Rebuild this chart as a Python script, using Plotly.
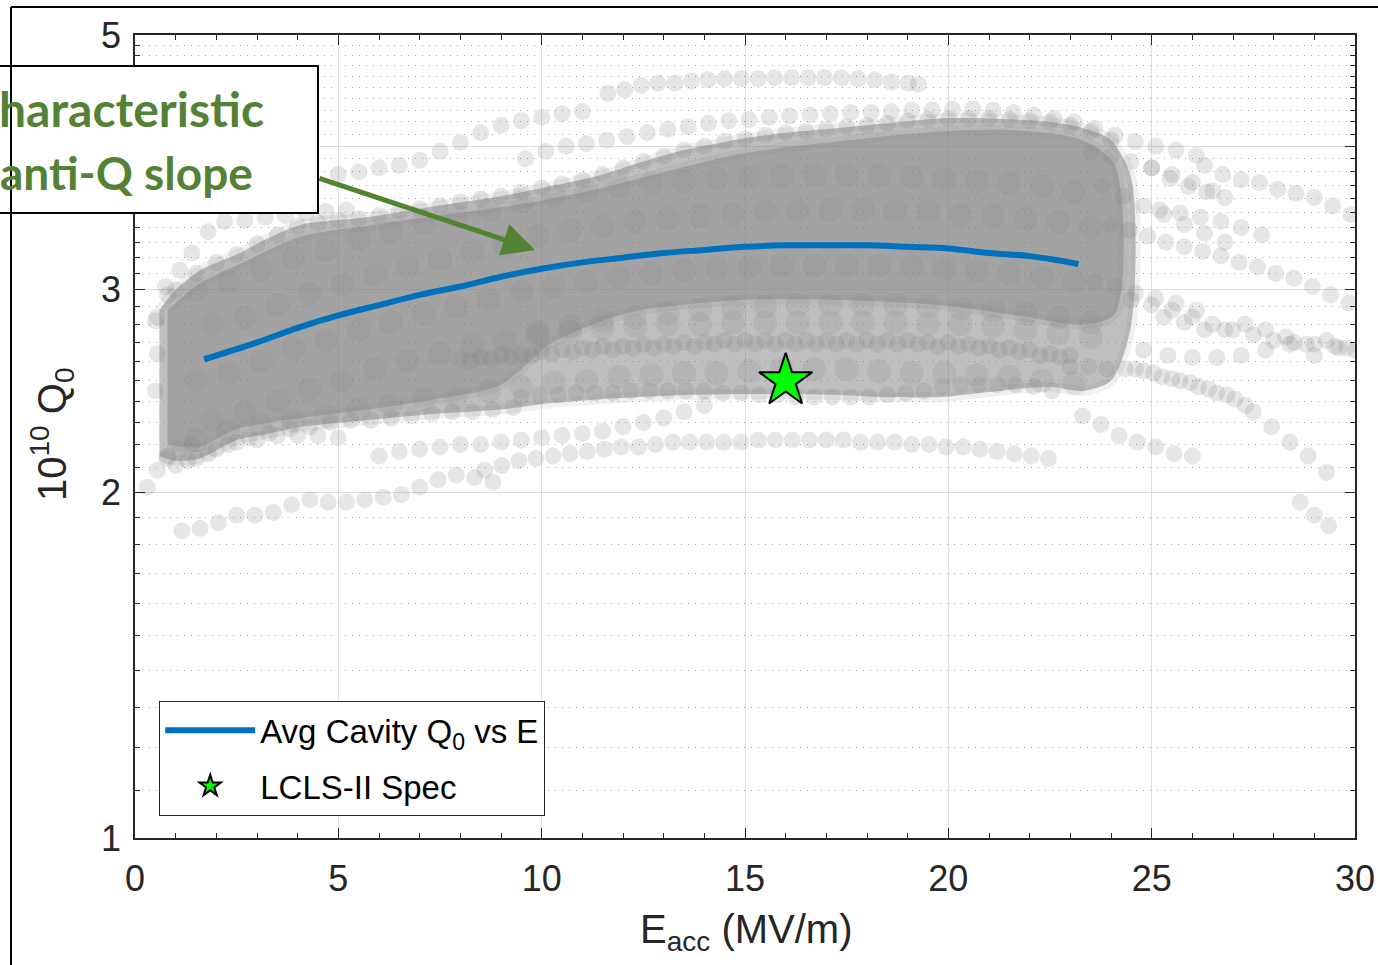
import math
import plotly.graph_objects as go

# ---------------- data ----------------
# average cavity Q0 curve (units of 1e10)
avg_e = [1.7, 3, 4, 5, 6, 7, 8, 9, 10, 11, 12, 13, 14, 15, 16, 17, 18, 19, 20, 21, 22, 23.2]
avg_q0 = [2.61, 2.70, 2.78, 2.85, 2.91, 2.97, 3.02, 3.08, 3.13, 3.17, 3.20, 3.23, 3.25,
          3.27, 3.28, 3.28, 3.28, 3.27, 3.26, 3.23, 3.21, 3.16]

# LCLS-II specification point
spec_e = [16.0]
spec_q0 = [2.50]

# envelope of the densely overlapping measurement cloud
cloud_e = [0.6, 1.0, 1.6, 2.5, 3.3, 4.1, 5.7, 7.4, 9.0, 10.2, 11.5, 12.4, 13.5, 14.9, 16.0,
           17.3, 18.5, 19.8, 21.0, 22.5, 23.3, 24.0, 24.5]
cloud_upper = [2.88, 3.00, 3.12, 3.22, 3.33, 3.42, 3.47, 3.55, 3.62, 3.69, 3.78, 3.87, 3.97,
               4.06, 4.11, 4.15, 4.19, 4.23, 4.23, 4.20, 4.15, 4.05, 3.75]
cloud_lower = [2.15, 2.13, 2.14, 2.22, 2.25, 2.28, 2.31, 2.34, 2.36, 2.39, 2.41, 2.42, 2.43,
               2.435, 2.435, 2.43, 2.42, 2.42, 2.445, 2.47, 2.45, 2.50, 2.80]

# darkest core of the cloud
core_e = [0.8, 1.6, 2.5, 4.1, 5.7, 7.4, 9.0, 10.2, 11.5, 12.4, 14.9, 17.3, 19.8, 21.7, 23.3, 24.1]
core_upper = [2.88, 3.04, 3.15, 3.34, 3.41, 3.48, 3.54, 3.60, 3.68, 3.75, 3.94, 4.04, 4.12,
              4.13, 4.05, 3.85]
core_lower = [2.20, 2.19, 2.27, 2.32, 2.36, 2.41, 2.48, 2.69, 2.82, 2.88, 2.94, 2.94, 2.91,
              2.85, 2.80, 2.86]

# individual cavity measurement runs (E in MV/m, Q0 in 1e10)
grid_a = [1.5, 2.3, 3.1, 3.9, 4.7, 5.5, 6.3, 7.1, 7.9, 8.7, 9.5, 10.3, 11.1, 11.9, 12.7, 13.5,
          14.3, 15.1, 15.9, 16.7, 17.5, 18.3, 19.1, 19.9, 20.7, 21.5, 22.3, 23.1]
grid_b = [1.9, 2.7, 3.5, 4.3, 5.1, 5.9, 6.7, 7.5, 8.3, 9.1, 9.9, 10.7, 11.5, 12.3, 13.1, 13.9,
          14.7, 15.5, 16.3, 17.1, 17.9, 18.7, 19.5, 20.3, 21.1, 21.9, 22.7, 23.5]

mid1_q0 = [3.00, 3.05, 3.12, 3.20, 3.25, 3.32, 3.37, 3.43, 3.48, 3.52, 3.58, 3.62, 3.66, 3.69,
           3.71, 3.73, 3.75, 3.76, 3.77, 3.78, 3.78, 3.77, 3.76, 3.75, 3.73, 3.71, 3.69, 3.65]
mid2_q0 = [2.80, 2.84, 2.91, 2.98, 3.03, 3.09, 3.14, 3.19, 3.24, 3.28, 3.34, 3.38, 3.41, 3.44,
           3.46, 3.48, 3.49, 3.51, 3.51, 3.52, 3.52, 3.51, 3.51, 3.49, 3.48, 3.46, 3.44, 3.40]
mid3_q0 = [2.50, 2.54, 2.60, 2.67, 2.71, 2.77, 2.81, 2.86, 2.90, 2.94, 2.99, 3.02, 3.05, 3.08,
           3.10, 3.12, 3.13, 3.14, 3.15, 3.15, 3.15, 3.15, 3.14, 3.13, 3.12, 3.10, 3.08, 3.05]
mid4_q0 = [2.31, 2.35, 2.40, 2.46, 2.50, 2.56, 2.60, 2.64, 2.68, 2.71, 2.76, 2.79, 2.82, 2.84,
           2.86, 2.88, 2.89, 2.90, 2.91, 2.91, 2.91, 2.91, 2.90, 2.89, 2.88, 2.86, 2.84, 2.81]
mid6_q0 = [2.22, 2.26, 2.29, 2.31, 2.33, 2.36, 2.38, 2.41, 2.42, 2.45, 2.47, 2.49, 2.50, 2.52,
           2.53, 2.54, 2.54, 2.55, 2.56, 2.56, 2.56, 2.55, 2.54, 2.54, 2.53, 2.52, 2.50, 2.49]
mid7_e = [9.9, 10.7, 11.5, 12.3, 13.1, 13.9, 14.7, 15.5, 16.3, 17.1, 17.9, 18.7, 19.5, 20.3,
          21.1, 21.9, 22.7, 23.5]
mid7_q0 = [2.74, 2.76, 2.78, 2.79, 2.80, 2.80, 2.81, 2.81, 2.81, 2.81, 2.81, 2.81, 2.80, 2.80,
           2.79, 2.77, 2.75, 2.73]

ridge1_e = [8.0, 8.5, 9.0, 9.5, 10.0, 10.5, 11.0, 11.5, 12.0, 12.5, 13.0, 13.5, 14.0, 14.5, 15.0,
            15.5, 16.0, 16.5, 17.0, 17.5, 18.0, 18.5, 19.0, 19.5, 20.0, 20.5, 21.0, 21.5, 22.0,
            22.5, 23.0]
ridge1_q0 = [2.61, 2.62, 2.63, 2.64, 2.65, 2.66, 2.67, 2.68, 2.68, 2.69, 2.69, 2.70, 2.70, 2.71,
             2.71, 2.71, 2.71, 2.71, 2.71, 2.71, 2.71, 2.71, 2.71, 2.70, 2.70, 2.69, 2.68, 2.67,
             2.66, 2.64, 2.63]
ridge2_e = [8.25, 8.75, 9.25, 9.75, 10.25, 10.75, 11.25, 11.75, 12.25, 12.75, 13.25, 13.75, 14.25,
            14.75, 15.25, 15.75, 16.25, 16.75, 17.25, 17.75, 18.25, 18.75, 19.25, 19.75, 20.25,
            20.75, 21.25, 21.75, 22.25, 22.75]
ridge2_q0 = [2.60, 2.61, 2.62, 2.63, 2.64, 2.65, 2.66, 2.66, 2.67, 2.67, 2.68, 2.68, 2.69, 2.69,
             2.69, 2.69, 2.69, 2.69, 2.69, 2.69, 2.69, 2.69, 2.69, 2.68, 2.68, 2.67, 2.66, 2.65,
             2.63, 2.62]

band_bottom_e = [9.5, 9.95, 10.4, 10.85, 11.3, 11.75, 12.2, 12.65, 13.1, 13.55, 14.0, 14.45, 14.9,
                 15.35, 15.8, 16.25, 16.7, 17.15, 17.6, 18.05, 18.5, 18.95, 19.4, 19.85, 20.3,
                 20.75, 21.2, 21.65, 22.1, 22.55]
band_bottom_q0 = [2.42, 2.43, 2.43, 2.44, 2.44, 2.44, 2.45, 2.45, 2.45, 2.45, 2.45, 2.44, 2.44,
                  2.43, 2.43, 2.42, 2.42, 2.42, 2.42, 2.42, 2.43, 2.44, 2.45, 2.47, 2.48, 2.48,
                  2.48, 2.48, 2.47, 2.45]

edge_top_left_e = [1.0, 1.5, 2.0, 2.5, 3.0, 3.5, 4.0, 4.5, 5.0, 5.5, 6.0, 6.5, 7.0, 7.5, 8.0,
                   8.5, 9.0, 9.5, 10.0]
edge_top_left_q0 = [3.00, 3.10, 3.17, 3.22, 3.29, 3.35, 3.41, 3.43, 3.45, 3.46, 3.48, 3.51, 3.53,
                    3.55, 3.58, 3.60, 3.62, 3.65, 3.68]
edge_top_mid_e = [10.5, 11.0, 11.5, 12.0, 12.5, 13.0, 13.5, 14.0, 14.5, 15.0, 15.5, 16.0, 16.5,
                  17.0, 17.5, 18.0, 18.5, 19.0, 19.5, 20.0, 20.5, 21.0, 21.5, 22.0, 22.5, 23.0,
                  23.5, 24.0]
edge_top_mid_q0 = [3.71, 3.74, 3.78, 3.83, 3.88, 3.92, 3.97, 4.00, 4.04, 4.06, 4.09, 4.11, 4.12,
                   4.14, 4.16, 4.17, 4.19, 4.21, 4.22, 4.23, 4.23, 4.23, 4.22, 4.21, 4.20, 4.17,
                   4.12, 4.05]
edge_bottom_left_e = [0.8, 1.3, 1.8, 2.3, 2.8, 3.3, 3.8, 4.3, 4.8, 5.3, 5.8, 6.3, 6.8, 7.3, 7.8,
                      8.3, 8.8, 9.3]
edge_bottom_left_q0 = [2.14, 2.13, 2.16, 2.20, 2.23, 2.25, 2.27, 2.28, 2.30, 2.31, 2.31, 2.32,
                       2.33, 2.34, 2.35, 2.35, 2.36, 2.37]

top_run_e = [11.63, 12.04, 12.45, 12.86, 13.27, 13.68, 14.09, 14.5, 14.91, 15.32, 15.73, 16.14,
             16.55, 16.96, 17.37, 17.78, 18.19, 18.6, 19.01, 19.26]
top_run_q0 = [4.45, 4.48, 4.52, 4.54, 4.54, 4.56, 4.57, 4.58, 4.58, 4.58, 4.59, 4.59, 4.59, 4.59,
              4.59, 4.58, 4.57, 4.55, 4.54, 4.53]

upper_left_e = [5.0, 5.5, 6.0, 6.5, 7.0, 7.5, 8.0, 8.5, 9.0, 9.5, 10.0, 10.5, 11.0]
upper_left_q0 = [3.78, 3.80, 3.83, 3.85, 3.89, 3.96, 4.03, 4.11, 4.17, 4.21, 4.24, 4.27, 4.29]

upper_edge_e = [9.6, 10.1, 10.6, 11.1, 11.6, 12.1, 12.6, 13.1, 13.6, 14.1, 14.6, 15.1, 15.6, 16.1,
                16.6, 17.1, 17.6, 18.1, 18.6, 19.1, 19.6, 20.1, 20.6, 21.1, 21.6, 22.1, 22.6,
                23.1, 23.6, 24.1, 24.6, 25.1, 25.6, 26.1]
upper_edge_q0 = [3.90, 3.96, 4.00, 4.02, 4.05, 4.08, 4.11, 4.14, 4.16, 4.19, 4.21, 4.22, 4.24,
                 4.25, 4.26, 4.27, 4.28, 4.28, 4.29, 4.30, 4.30, 4.31, 4.31, 4.30, 4.28, 4.26,
                 4.23, 4.20, 4.15, 4.09, 4.04, 4.00, 3.97, 3.93]

right1_e = [26.3, 26.75, 27.2, 27.65, 28.1, 28.55, 29.0, 29.45, 29.9]
right1_q0 = [3.85, 3.78, 3.74, 3.72, 3.67, 3.64, 3.61, 3.55, 3.49]
right1b_e = [25.0, 25.45, 25.9, 26.35, 26.8]
right1b_q0 = [3.83, 3.75, 3.69, 3.65, 3.61]
right2_e = [24.0, 24.45, 24.9, 25.35, 25.8, 26.25, 26.7, 27.15, 27.6, 28.05, 28.5, 28.95, 29.4, 29.85]
right2_q0 = [3.42, 3.38, 3.34, 3.30, 3.27, 3.24, 3.21, 3.17, 3.14, 3.10, 3.07, 3.02, 2.97, 2.92]
right2b_e = [25.2, 25.7, 26.2, 26.7, 27.2, 27.7]
right2b_q0 = [3.52, 3.50, 3.47, 3.44, 3.40, 3.35]
right3_e = [24.5, 25.0, 25.5, 26.0, 26.5, 27.0, 27.5, 28.0, 28.5, 29.0, 29.5, 30.0]
right3_q0 = [2.94, 2.91, 2.88, 2.84, 2.80, 2.77, 2.74, 2.71, 2.70, 2.69, 2.68, 2.66]
right3b_e = [24.8, 25.4, 26.0, 26.6, 27.2, 27.8, 28.4, 29.0, 29.6]
right3b_q0 = [2.66, 2.63, 2.62, 2.62, 2.63, 2.66, 2.69, 2.63, 2.67]
right8_e = [25.3, 25.8, 26.3, 26.8, 27.3, 27.8, 28.3, 28.8, 29.3, 29.8]
right8_q0 = [2.84, 2.81, 2.77, 2.77, 2.80, 2.77, 2.73, 2.69, 2.71, 2.67]
right4_e = [23.0, 23.45, 23.9, 24.35, 24.8, 25.25, 25.7, 26.15, 26.6, 27.05, 27.5, 27.95, 28.4,
            28.85, 29.3]
right4_q0 = [2.57, 2.57, 2.56, 2.56, 2.55, 2.52, 2.50, 2.47, 2.44, 2.41, 2.35, 2.28, 2.21, 2.15, 2.08]
right4b_e = [24.6, 25.05, 25.5, 25.95, 26.4, 26.85, 27.3]
right4b_q0 = [2.56, 2.54, 2.51, 2.49, 2.46, 2.43, 2.38]
right5_e = [28.65, 29.0, 29.35]
right5_q0 = [1.96, 1.91, 1.87]
right6_e = [23.3, 23.75, 24.2, 24.65, 25.1, 25.55, 26.0]
right6_q0 = [2.33, 2.29, 2.24, 2.21, 2.19, 2.16, 2.15]
right7_e = [23.8, 24.3, 24.8, 25.3, 25.8, 26.3, 26.8]
right7_q0 = [3.70, 3.62, 3.55, 3.49, 3.42, 3.36, 3.30]
right9_e = [23.6, 24.1, 24.6, 25.1, 25.6, 26.1]
right9_q0 = [3.05, 3.02, 2.98, 2.95, 2.92, 2.88]
right10_e = [23.5, 24.0, 24.5, 25.0, 25.5, 26.0, 26.5]
right10_q0 = [3.95, 3.92, 3.88, 3.83, 3.78, 3.72, 3.66]

left1_e = [0.3, 0.55, 0.8, 1.1, 1.4]
left1_q0 = [2.02, 2.09, 2.15, 2.18, 2.20]
left2_e = [0.5, 0.8, 1.1, 1.4, 1.8, 2.2, 2.7, 3.2, 3.7, 4.2, 4.7, 5.2]
left2_q0 = [2.82, 2.97, 3.12, 3.23, 3.37, 3.44, 3.45, 3.47, 3.48, 3.50, 3.51, 3.52]
left3_e = [0.5, 0.55, 0.55, 0.75]
left3_q0 = [2.45, 2.64, 2.84, 3.02]
low_left_e = [1.0, 1.5, 2.0, 2.5, 3.0, 3.5, 4.0, 4.5, 5.0]
low_left_q0 = [2.11, 2.14, 2.18, 2.21, 2.22, 2.24, 2.24, 2.24, 2.23]

low_a_e = [1.15, 1.6, 2.05, 2.5, 2.95, 3.4, 3.85, 4.3, 4.75, 5.2, 5.65, 6.1, 6.55, 7.0, 7.45, 7.9,
           8.35, 8.8]
low_a_q0 = [1.85, 1.86, 1.88, 1.91, 1.91, 1.92, 1.95, 1.97, 1.96, 1.96, 1.97, 1.98, 1.99, 2.02,
            2.05, 2.07, 2.06, 2.04]
low_b_e = [8.6, 9.02, 9.44, 9.86, 10.28, 10.7, 11.12, 11.54, 11.96, 12.38, 12.8, 13.22, 13.64,
           14.06, 14.48, 14.9, 15.32, 15.74, 16.16, 16.58, 17.0, 17.42, 17.84, 18.26, 18.68, 19.1,
           19.52, 19.94, 20.36, 20.78, 21.2, 21.62, 22.04, 22.46]
low_b_q0 = [2.09, 2.11, 2.13, 2.14, 2.15, 2.16, 2.17, 2.18, 2.19, 2.19, 2.20, 2.21, 2.21, 2.21,
            2.21, 2.21, 2.22, 2.22, 2.22, 2.22, 2.22, 2.22, 2.21, 2.21, 2.21, 2.20, 2.20, 2.19,
            2.19, 2.18, 2.17, 2.16, 2.15, 2.14]
low_c_e = [6.0, 6.5, 7.0, 7.5, 8.0, 8.5, 9.0, 9.5, 10.0, 10.5, 11.0, 11.5, 12.0, 12.5, 13.0, 13.5, 14.0]
low_c_q0 = [2.15, 2.17, 2.18, 2.19, 2.20, 2.20, 2.21, 2.22, 2.23, 2.24, 2.25, 2.26, 2.28, 2.30,
            2.32, 2.35, 2.38]

# axis ticks (the "4" label sits under the call-out box in the reference)
x_ticks = [0, 5, 10, 15, 20, 25, 30]
y_ticks = [1, 2, 3, 4, 5]
y_labels = ["1", "2", "3", "", "5"]
y_minor = [round(a + b / 10, 1) for a in (1, 2, 3, 4) for b in range(1, 10)]

# call-out text as visible in the (cropped) reference
callout_line1 = "haracteristic"
callout_line2 = "anti-Q slope"

# ---------------- figure ----------------
W, H = 1378, 965
ML, MR, MT, MB = 135, 23, 35, 127
PW, PH = W - ML - MR, H - MT - MB


def px(xp):
    return (xp - ML) / PW


def py(yp):
    return (H - MB - yp) / PH


GREY = "rgba(128,128,128,0.20)"
fig = go.Figure()

# dense cloud (overlapping measurements), soft-edged
for e_vals, up, lo, alpha in [(cloud_e, cloud_upper, cloud_lower, 0.50),
                              (core_e, core_upper, core_lower, 0.45)]:
    fig.add_trace(go.Scatter(
        x=e_vals + e_vals[::-1], y=up + lo[::-1], mode="lines", fill="toself",
        fillcolor=f"rgba(128,128,128,{alpha})",
        line=dict(width=10, color="rgba(128,128,128,0.12)", shape="spline", smoothing=0.8),
        hoverinfo="skip", showlegend=False))

inner_runs = [
    (grid_a, mid1_q0), (grid_b, mid2_q0), (grid_a, mid3_q0), (grid_b, mid4_q0),
    (grid_a, mid6_q0), (mid7_e, mid7_q0),
]
runs = [
    (ridge1_e, ridge1_q0), (ridge2_e, ridge2_q0),
    (band_bottom_e, band_bottom_q0), (edge_top_left_e, edge_top_left_q0),
    (edge_top_mid_e, edge_top_mid_q0), (edge_bottom_left_e, edge_bottom_left_q0),
    (top_run_e, top_run_q0), (upper_left_e, upper_left_q0),
    (upper_edge_e, upper_edge_q0), (right1_e, right1_q0), (right1b_e, right1b_q0),
    (right2_e, right2_q0), (right2b_e, right2b_q0), (right3_e, right3_q0),
    (right3b_e, right3b_q0), (right8_e, right8_q0), (right4_e, right4_q0),
    (right4b_e, right4b_q0), (right5_e, right5_q0), (right6_e, right6_q0),
    (right7_e, right7_q0), (right9_e, right9_q0), (right10_e, right10_q0),
    (left1_e, left1_q0), (left2_e, left2_q0), (left3_e, left3_q0),
    (low_left_e, low_left_q0), (low_a_e, low_a_q0), (low_b_e, low_b_q0), (low_c_e, low_c_q0),
]
for e_vals, q_vals in inner_runs:
    fig.add_trace(go.Scatter(
        x=e_vals, y=q_vals, mode="markers",
        marker=dict(size=24, color="rgba(128,128,128,0.16)", line=dict(width=0)),
        hoverinfo="skip", showlegend=False))
for e_vals, q_vals in runs:
    fig.add_trace(go.Scatter(
        x=e_vals, y=q_vals, mode="markers",
        marker=dict(size=17, color=GREY, line=dict(width=0)),
        hoverinfo="skip", showlegend=False))

fig.add_trace(go.Scatter(
    x=avg_e, y=avg_q0, mode="lines", line=dict(color="#0072BD", width=6, shape="spline"),
    name="Avg Cavity Q<sub>0</sub> vs E", legendgroup="a"))
fig.add_trace(go.Scatter(
    x=spec_e, y=spec_q0, mode="markers",
    marker=dict(symbol="star", size=40, color="#00FF00", line=dict(color="black", width=2)),
    name="LCLS-II Spec", legendgroup="b"))

tick_font = dict(family="Liberation Sans, Arial, sans-serif", size=36, color="#262626")
axis_common = dict(ticks="inside", ticklen=10, tickwidth=1.2, tickcolor="#262626",
                   mirror="allticks", showline=True, linecolor="#262626", linewidth=1.5,
                   zeroline=False, tickfont=tick_font, showgrid=True, gridcolor="#dedede",
                   gridwidth=1)

fig.update_layout(
    width=W, height=H, template="none",
    margin=dict(l=ML, r=MR, t=MT, b=MB, autoexpand=False),
    paper_bgcolor="white", plot_bgcolor="white",
    xaxis=dict(range=[0, 30], tickmode="array", tickvals=x_ticks, ticklabelstandoff=8,
               minor=dict(tickvals=list(range(1, 30)), ticks="inside", ticklen=5,
                          tickcolor="#262626", showgrid=False),
               **axis_common),
    yaxis=dict(type="log", range=[0, math.log10(5)], tickmode="array", tickvals=y_ticks,
               ticktext=y_labels, ticklabelstandoff=5,
               minor=dict(tickvals=y_minor, ticks="inside", ticklen=5, tickcolor="#262626",
                          showgrid=True, gridcolor="#a8a8a8", griddash="1px,6px", gridwidth=1),
               **axis_common),
    legend=dict(x=px(159), y=py(701), xanchor="left", yanchor="top", bgcolor="white",
                bordercolor="#262626", borderwidth=1.2, tracegroupgap=10, itemwidth=90,
                font=dict(family="Liberation Sans, Arial, sans-serif", size=33, color="black")),
    showlegend=True,
)

label_font = dict(family="Liberation Sans, Arial, sans-serif", size=40, color="#262626")
green = "#548235"
callout_font = dict(family="Lato, Open Sans, sans-serif", size=48, color=green, weight="bold")
fig.update_layout(
    shapes=[
        dict(type="rect", xref="paper", yref="paper", x0=px(-20), x1=px(318), y0=py(213),
             y1=py(66), fillcolor="white", line=dict(color="black", width=2), layer="above"),
        dict(type="line", xref="paper", yref="paper", x0=px(11), x1=px(11), y0=py(7),
             y1=py(970), line=dict(color="black", width=2), layer="above"),
        dict(type="line", xref="paper", yref="paper", x0=px(11), x1=px(1390), y0=py(7),
             y1=py(7), line=dict(color="black", width=2), layer="above"),
    ],
    annotations=[
        dict(text="E<sub>acc</sub> (MV/m)", xref="paper", yref="paper", x=px(746), y=py(932),
             xanchor="center", yanchor="middle", showarrow=False, font=label_font),
        dict(text="10<sup>10</sup> Q<sub>0</sub>", xref="paper", yref="paper", x=px(52),
             y=py(435), xanchor="center", yanchor="middle", textangle=-90, showarrow=False,
             font=label_font),
        dict(text=callout_line1, xref="paper", yref="paper", x=px(-3), y=py(108),
             xanchor="left", yanchor="middle", showarrow=False, font=callout_font),
        dict(text=callout_line2, xref="paper", yref="paper", x=px(-2), y=py(172),
             xanchor="left", yanchor="middle", showarrow=False,
             font=dict(callout_font, size=46)),
        dict(text="", xref="paper", yref="paper", x=px(535), y=py(250), ax=318 - 535,
             ay=178 - 250, showarrow=True, arrowhead=2, arrowsize=1.3, arrowwidth=5,
             arrowcolor=green, standoff=0, startstandoff=0),
    ],
)

fig.write_html("out.html", config={"displayModeBar": False},
               post_script="document.body.style.margin='0px';")
